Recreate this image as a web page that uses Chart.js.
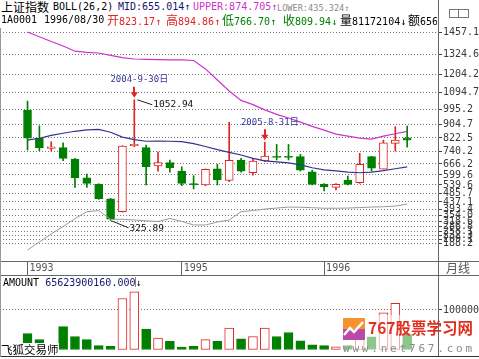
<!DOCTYPE html>
<html><head><meta charset="utf-8">
<script src="https://cdn.jsdelivr.net/npm/chart.js@4/dist/chart.umd.min.js"></script>
<style>
html,body{margin:0;padding:0;background:#fff;}
#wrap{position:relative;width:479px;height:359px;overflow:hidden;background:#fff;}
.t{position:absolute;white-space:pre;font-family:'DejaVu Sans Mono',monospace;font-size:10px;line-height:12px;color:#000;z-index:5;}
.c{font-family:'Noto Sans CJK SC',sans-serif;font-size:12px;}
.ln{position:absolute;background:#666;z-index:6;}
canvas{position:absolute;left:0;}
</style></head><body>
<div id="wrap">
<canvas id="main" width="479" height="255" style="top:20px"></canvas>
<canvas id="vol" width="479" height="80" style="top:276px"></canvas>

<div class="t" style="left:1px;top:1px"><span class="c">上证指数</span></div>
<div class="t" style="left:53px;top:1px">BOLL(26,2)</div>
<div class="t" style="left:118px;top:1px;color:#14146e">MID:655.014↑</div>
<div class="t" style="left:193px;top:1px;color:#cc33cc">UPPER:874.705↑</div>
<div class="t" style="left:277px;top:2px;color:#8a8a8a;font-size:8.6px">LOWER:435.324↑</div>

<div style="position:absolute;left:0;top:14px;width:437px;height:13px;overflow:hidden;z-index:5">
<div class="t" style="left:1px;top:0">1A0001</div>
<div class="t" style="left:44px;top:0">1996/08/30</div>
<div class="t" style="left:107px;top:0;color:#e02424"><span class="c">开</span>823.17↑</div>
<div class="t" style="left:166px;top:0;color:#e02424"><span class="c">高</span>894.86↑</div>
<div class="t" style="left:222px;top:0;color:#008000"><span class="c">低</span>766.70↑</div>
<div class="t" style="left:283px;top:0;color:#008000"><span class="c">收</span>809.94↓</div>
<div class="t" style="left:340px;top:0"><span class="c">量</span>81172104↓</div>
<div class="t" style="left:408px;top:0"><span class="c">额</span>6562</div>
</div>

<div style="position:absolute;left:449px;top:9px;width:18px;height:7px;border:1px solid #777;z-index:5"></div>
<div style="position:absolute;left:458px;top:9px;width:1px;height:9px;background:#777;z-index:5"></div>

<div class="t c" style="left:446px;top:262px;color:#555;font-size:12px">月线</div>

<div class="t" style="left:3px;top:277px">AMOUNT <span style="color:#14146e">65623900160.000</span>↓</div>
<div class="ln" style="left:135px;top:277px;width:1px;height:10px;background:#888"></div>

<div style="position:absolute;left:340px;top:315px;width:139px;height:41px;background:rgba(255,255,255,0.55);z-index:4"></div>
<svg style="position:absolute;left:343px;top:318px;z-index:5" width="22" height="22" viewBox="0 0 22 22">
<rect x="0" y="0" width="22" height="11" fill="#f7932e"/><rect x="0" y="11" width="22" height="11" fill="#b84aa8"/>
<polyline points="1,17 7,10 11,14 20,4" fill="none" stroke="#fff" stroke-width="2.5"/></svg>
<div class="t" style="left:368px;top:316px;font-family:'Noto Sans CJK SC',sans-serif;font-size:15.5px;line-height:22px;font-weight:bold;color:#e0301e">767股票学习网</div>
<div class="t" style="left:343px;top:343px;font-size:11px;letter-spacing:2.8px;color:#8a8a8a">www.net767.com</div>
<div class="t c" style="left:1px;top:343px;background:#fff;line-height:13px;font-size:11.5px">飞狐交易师</div>

<div class="ln" style="left:438px;top:0;width:1px;height:357px"></div>
<div class="ln" style="left:0;top:261px;width:479px;height:1px"></div>
<div class="ln" style="left:0;top:275px;width:479px;height:1px"></div>
<div class="ln" style="left:0;top:356px;width:479px;height:1px;background:#333"></div>
<div class="ln" style="left:0;top:28px;width:1px;height:329px;background:#999"></div>
</div>
<script>
// ---- data (monthly candles) ----
const opens  = [991, 822, 760, 764, 696, 583, 543, 455, 378, 776, 764, 654, 674, 623, 547, 539, 636, 567, 690, 613, 684, 712, 712, 710, 619, 543, 525, 569, 553, 710, 635, 790, 823.17];
const highs  = [1045, 896, 800, 794, 700, 605, 547, 458, 776, 1052.94, 780, 738, 690, 649, 595, 636, 664, 917, 700, 700, 797, 784, 784, 724, 629, 547, 547, 593, 730, 712, 810, 891, 894.86];
const lows   = [750, 746, 744, 686, 525, 525, 453, 325.89, 376, 770, 539, 623, 616, 535, 515, 535, 539, 559, 616, 599, 680, 690, 690, 623, 539, 503, 509, 539, 549, 623, 635, 744, 766.70];
const closes = [822, 762, 770, 700, 583, 549, 455, 333, 774, 785, 649, 674, 643, 549, 539, 634, 569, 688, 623, 684, 714, 705, 705, 629, 543, 527, 543, 543, 664, 640, 794, 810, 809.94];
const volumes = [40000, 25000, 15000, 58000, 33000, 25000, 10000, 8000, 129000, 146000, 52000, 29000, 21000, 6000, 8000, 25000, 21000, 54000, 27000, 33000, 54000, 33000, 43000, 22000, 12000, 10000, 7000, 10000, 46000, 32000, 93000, 117000, 37000];
const upperBand = [1462, 1433, 1404, 1377, 1346, 1339, 1335, 1321, 1307, 1299, 1297, 1295, 1294, 1293, 1290, 1239, 1172, 1106, 1049, 1024, 992, 965, 943, 918, 893, 870, 846, 834, 822, 816, 834, 848, 862];
const midBand   = [810, 821, 838, 851, 863, 871, 874, 857, 828, 813, 803, 804, 803, 801, 789, 771, 752, 736, 720, 700, 685, 678, 672, 660, 643, 630, 624, 617, 613, 617, 626, 637, 648];
const lowerBand = [147, 195, 244, 289, 336, 378, 385, 332, 332, 328, 323, 319, 337, 320, 298, 298, 316, 328, 378, 385, 394, 400, 406, 405, 402, 399, 399, 400, 403, 406, 408, 412, 424];
const priceTickLabels = ['1457.1','1324.6','1204.2','1094.7','995.2','904.7','822.5','740.2','666.2','599.6','539.6','485.7','437.1','393.4','354.0','318.6','286.8','258.1','232.3','209.1','188.2'];
const volTickLabels = ['100000'];
const yearIdx = [0, 13, 25];
const yearLabels = ['1993', '1995', '1996'];
const markIdx = [9, 20];
const markLabels = ['2004-9-30日', '2005-8-31日'];
const peakIdx = 9;
const troughIdx = 7;

// ---- styling ----
const RED = '#e02424', GREEN = '#008000';
const X_MIN = -2.32, X_MAX = 34.6;
const isUp = i => closes[i] >= opens[i];
const MONO = "'DejaVu Sans Mono', monospace";

const pts = arr => arr.map((v, i) => ({x: i, y: v}));

const notePlugin = {
  id: 'notes',
  afterDatasetsDraw(chart) {
    const {ctx, scales: {x, y}} = chart;
    ctx.save();
    markIdx.forEach((i, k) => {
      const px = x.getPixelForValue(i), py = y.getPixelForValue(highs[i]);
      ctx.fillStyle = RED;
      ctx.fillRect(Math.round(px) - 1, py - 13, 2, 6);
      ctx.beginPath();
      ctx.moveTo(px - 3.5, py - 7.5); ctx.lineTo(px + 3.5, py - 7.5); ctx.lineTo(px, py - 2);
      ctx.closePath(); ctx.fill();
      ctx.fillStyle = '#35359a';
      ctx.font = "9px 'DejaVu Sans Mono', 'Noto Sans CJK SC'";
      ctx.textAlign = 'center'; ctx.textBaseline = 'middle';
      ctx.fillText(markLabels[k], px + 5, py - 20);
    });
    ctx.strokeStyle = '#222'; ctx.lineWidth = 1;
    ctx.fillStyle = '#111';
    ctx.font = "9.5px " + MONO;
    ctx.textAlign = 'left'; ctx.textBaseline = 'middle';
    let px = x.getPixelForValue(peakIdx), py = y.getPixelForValue(highs[peakIdx]);
    ctx.beginPath(); ctx.moveTo(px + 3, py); ctx.lineTo(px + 18, py + 5); ctx.stroke();
    ctx.fillText(highs[peakIdx].toFixed(2), px + 19, py + 5);
    px = x.getPixelForValue(troughIdx); py = y.getPixelForValue(lows[troughIdx]);
    ctx.beginPath(); ctx.moveTo(px + 1, py + 0.5); ctx.lineTo(px + 18, py + 7.5); ctx.stroke();
    ctx.fillText(lows[troughIdx].toFixed(2), px + 19, py + 8.5);
    ctx.restore();
  }
};

const commonX = {
  type: 'linear', min: X_MIN, max: X_MAX, offset: false
};

const yGrid = {color: '#777', lineWidth: 1, drawOnChartArea: true, drawTicks: true, tickLength: 4, tickColor: '#444', tickBorderDash: [], tickWidth: 1};
const yBorder = {display: true, color: '#666', width: 1, dash: [1, 2]};

new Chart(document.getElementById('main'), {
  type: 'bar',
  data: {
    datasets: [
      {type: 'line', data: pts(upperBand), borderColor: '#cc33cc', borderWidth: 1.2, pointRadius: 0, tension: 0, order: 0},
      {type: 'line', data: pts(midBand), borderColor: '#33338f', borderWidth: 1.2, pointRadius: 0, tension: 0, order: 0},
      {type: 'line', data: pts(lowerBand), borderColor: '#999999', borderWidth: 1, pointRadius: 0, tension: 0, order: 0},
      {data: opens.map((o, i) => ({x: i, y: [o, closes[i]]})), barThickness: 8, grouped: false,
        backgroundColor: c => isUp(c.dataIndex) ? '#ffffff' : GREEN,
        borderColor: c => isUp(c.dataIndex) ? RED : GREEN,
        borderWidth: 1, borderSkipped: false, order: 2},
      {data: lows.map((l, i) => ({x: i, y: [l, highs[i]]})), barThickness: 1, grouped: false,
        backgroundColor: c => isUp(c.dataIndex) ? RED : GREEN, borderWidth: 0, order: 3}
    ]
  },
  options: {
    responsive: false, animation: false, devicePixelRatio: 1, events: [],
    layout: {padding: {top: 8, left: 0, right: 0, bottom: 0}},
    plugins: {legend: {display: false}, tooltip: {enabled: false}},
    scales: {
      x: Object.assign({}, commonX, {
        position: 'bottom',
        afterFit: s => { s.height = 14; s.paddingLeft = 0; s.paddingRight = 0; },
        afterBuildTicks: s => { s.ticks = yearIdx.map(v => ({value: v})); },
        ticks: {autoSkip: false, maxRotation: 0, align: 'start', labelOffset: 2, padding: -13,
          color: '#555', font: {family: MONO, size: 10},
          callback: (v, i) => yearLabels[i]},
        grid: {drawOnChartArea: false, drawTicks: true, tickLength: 14, tickColor: '#666', offset: false},
        border: {display: true, color: '#666'}
      }),
      y: {
        type: 'linear', position: 'right',
        min: 80.8, max: 1485.8,
        afterFit: s => { s.width = 41; s.paddingTop = 0; s.paddingBottom = 0; },
        afterBuildTicks: s => { s.ticks = priceTickLabels.map(t => ({value: parseFloat(t)})); },
        ticks: {autoSkip: false, padding: 1, color: '#3a3a3a', font: {family: MONO, size: 10},
          callback: (v, i) => priceTickLabels[i]},
        grid: yGrid,
        border: yBorder
      }
    }
  },
  plugins: [notePlugin]
});

new Chart(document.getElementById('vol'), {
  type: 'bar',
  data: {
    datasets: [
      {data: volumes.map((v, i) => ({x: i, y: v})), barThickness: 9, grouped: false,
        backgroundColor: c => isUp(c.dataIndex) ? '#ffffff' : GREEN,
        borderColor: c => isUp(c.dataIndex) ? RED : GREEN,
        borderWidth: 1, borderSkipped: false}
    ]
  },
  options: {
    responsive: false, animation: false, devicePixelRatio: 1, events: [],
    layout: {padding: 0},
    plugins: {legend: {display: false}, tooltip: {enabled: false}},
    scales: {
      x: Object.assign({}, commonX, {display: false}),
      y: {
        type: 'linear', position: 'right',
        min: -16455, max: 186073,
        afterFit: s => { s.width = 41; s.paddingTop = 0; s.paddingBottom = 0; },
        afterBuildTicks: s => { s.ticks = volTickLabels.map(t => ({value: parseFloat(t)})); },
        ticks: {autoSkip: false, padding: 1, color: '#3a3a3a', font: {family: MONO, size: 10},
          callback: (v, i) => volTickLabels[i]},
        grid: yGrid,
        border: yBorder
      }
    }
  }
});
</script>
</body></html>
